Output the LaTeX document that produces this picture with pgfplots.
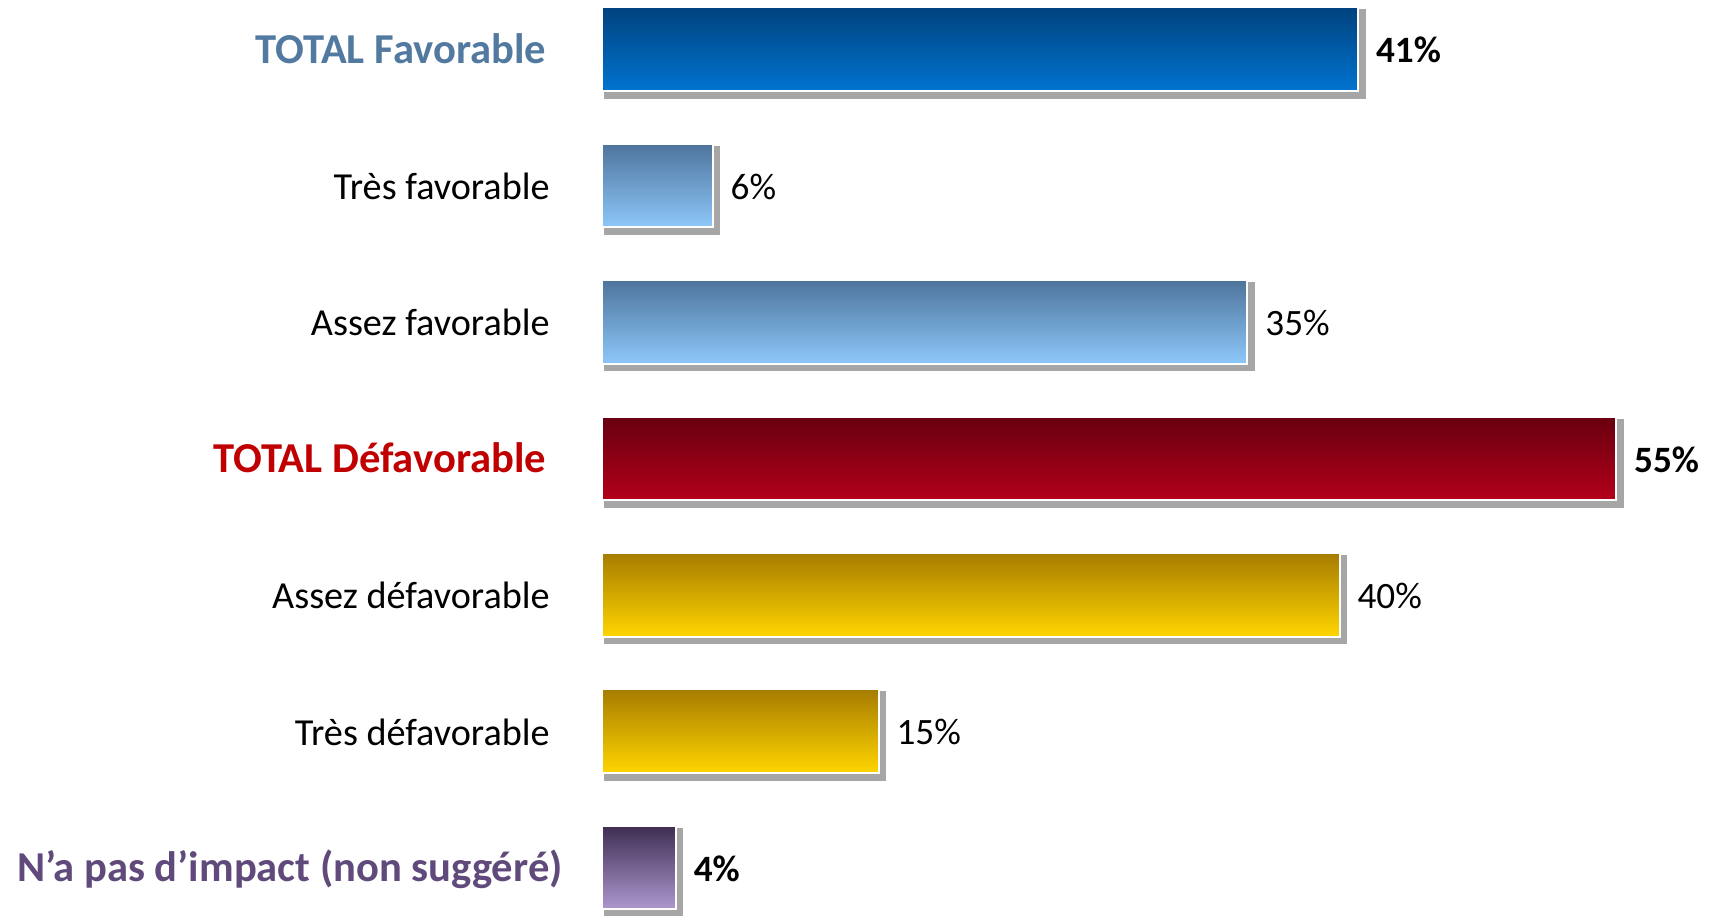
\documentclass[border=0pt]{standalone}
\usepackage{fontspec}
\setmainfont{Carlito}
\usepackage{pgfplots}
\pgfplotsset{compat=1.18}
\definecolor{shadowgray}{HTML}{A6A6A6}
\definecolor{favA}{HTML}{00427E}
\definecolor{favB}{HTML}{0074D0}
\definecolor{ltA}{HTML}{4E749C}
\definecolor{ltB}{HTML}{8DC8FA}
\definecolor{redA}{HTML}{68000F}
\definecolor{redB}{HTML}{B3001B}
\definecolor{yelA}{HTML}{A67C00}
\definecolor{yelB}{HTML}{FFD500}
\definecolor{purA}{HTML}{3E2E52}
\definecolor{purB}{HTML}{AE98CF}
\definecolor{labblue}{HTML}{52799F}
\definecolor{labred}{HTML}{C00000}
\definecolor{labpur}{HTML}{604A7B}
\newcommand{\regfont}{\fontsize{19.1bp}{23bp}\selectfont}
\newcommand{\bigfont}{\fontsize{21.3bp}{25bp}\selectfont\bfseries}
\begin{document}
\begin{tikzpicture}
\begin{axis}[
  scale only axis, width=855.5bp, height=458bp,
  xmin=-32.646, xmax=60.141, ymin=-0.3607, ymax=6.3548, y dir=reverse,
  axis line style={draw=none}, tick style={draw=none}, xtick=\empty,
  ytick={0,1,2,3,4,5,6},
  yticklabels={
    {\bigfont\color{labblue}TOTAL Favorable\hspace*{8.25bp}},
    {\regfont Très favorable\hspace*{6.5bp}},
    {\regfont Assez favorable\hspace*{6.5bp}},
    {\bigfont\color{labred}TOTAL Défavorable\hspace*{8.25bp}},
    {\regfont Assez défavorable\hspace*{6.5bp}},
    {\regfont Très défavorable\hspace*{6.5bp}},
    {\bigfont\color{labpur}N’a pas d’impact (non suggéré)}
  },
  yticklabel style={anchor=base east, inner sep=0pt, xshift=281.5bp, yshift=-6.9bp},
  clip=false,
  bar width=0.6136,
  every node near coord/.style={anchor=base west, inner sep=0pt, xshift=8.5bp, yshift=-6.8bp, font=\fontsize{18.6bp}{22bp}\selectfont, text=black},
]
\addplot[xbar, bar shift=0pt, fill=shadowgray, draw=shadowgray, line width=2.75bp, xshift=2.375bp, yshift=-2.375bp, forget plot]
  coordinates {(41,0) (6,1) (35,2) (55,3) (40,4) (15,5) (4,6)};
\addplot[xbar, bar shift=0pt, draw=white, line width=1bp, top color=favA, bottom color=favB, nodes near coords={\textbf{41\%}}] coordinates {(41,0)};
\addplot[xbar, bar shift=0pt, draw=white, line width=1bp, top color=ltA, bottom color=ltB, nodes near coords={6\%}] coordinates {(6,1)};
\addplot[xbar, bar shift=0pt, draw=white, line width=1bp, top color=ltA, bottom color=ltB, nodes near coords={35\%}] coordinates {(35,2)};
\addplot[xbar, bar shift=0pt, draw=white, line width=1bp, top color=redA, bottom color=redB, nodes near coords={\textbf{55\%}}] coordinates {(55,3)};
\addplot[xbar, bar shift=0pt, draw=white, line width=1bp, top color=yelA, bottom color=yelB, nodes near coords={40\%}] coordinates {(40,4)};
\addplot[xbar, bar shift=0pt, draw=white, line width=1bp, top color=yelA, bottom color=yelB, nodes near coords={15\%}] coordinates {(15,5)};
\addplot[xbar, bar shift=0pt, draw=white, line width=1bp, top color=purA, bottom color=purB, nodes near coords={\textbf{4\%}}] coordinates {(4,6)};
\end{axis}
\pgfresetboundingbox
\path (0,0) rectangle (855.5bp,458bp);
\end{tikzpicture}
\end{document}
